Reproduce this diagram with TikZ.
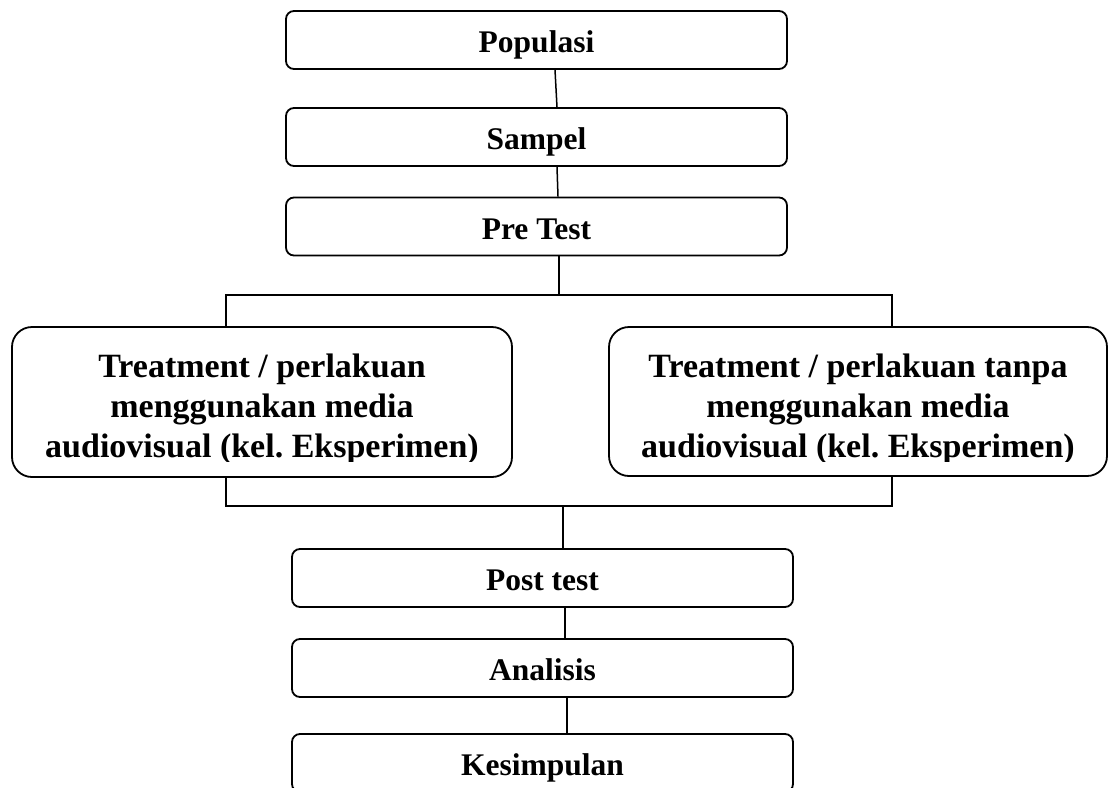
\documentclass[tikz,border=0pt]{standalone}
\usepackage{fontspec}
\setmainfont{Liberation Serif}
\usetikzlibrary{calc}
\frenchspacing
\begin{document}
\begin{tikzpicture}[x=1pt,y=-1pt,
  smallbox/.style={draw=black,line width=1.8pt,rounded corners=8pt,inner sep=0pt,
    minimum width=501pt,minimum height=58pt,text height=25pt,text depth=0pt,
    font=\fontsize{31.5}{36}\selectfont\bfseries},
  bigbox/.style={draw=black,line width=1.8pt,rounded corners=20pt,inner sep=0pt,
    minimum height=150pt},
  bigtext/.style={align=center,inner sep=0pt,font=\fontsize{34}{40}\selectfont\bfseries},
  conn/.style={draw=black,line width=1.5pt}]
\clip (0,0) rectangle (1108,787);
\fill[white] (0,0) rectangle (1108,787);
% boxes
\node[smallbox] (pop)  at (536.5,40)    {Populasi};
\node[smallbox] (samp) at (536.5,137)   {Sampel};
\node[smallbox] (pre)  at (536.5,226.5) {Pre Test};
\node[bigbox,minimum width=500pt] (tl) at (262,402) {};
\node[bigbox,minimum width=498pt,minimum height=149pt] (tr) at (858,401.5) {};
\begin{scope}
\clip (0,330) rectangle (1108,461);
\node[bigtext] (tlt) at ($(tl.center)+(0,7)$) {Treatment / perlakuan\\menggunakan media\\audiovisual (kel. Eksperimen)};
\node[bigtext] (trt) at ($(tr.center)+(0,7.5)$) {Treatment / perlakuan tanpa\\menggunakan media\\audiovisual (kel. Eksperimen)};
\end{scope}
\node[smallbox] (post) at (542.5,578) {Post test};
\node[smallbox] (ana)  at (542.5,668) {Analisis};
\node[smallbox] (kes)  at (542.5,763) {Kesimpulan};
% junction coordinates
\coordinate (c1a) at (555,0);
\coordinate (c1b) at (557,0);
\coordinate (c2a) at (557,0);
\coordinate (c2b) at (558,0);
\coordinate (tj) at (559,295);
\coordinate (lt) at (226,295);
\coordinate (rt) at (892,295);
\coordinate (lb) at (226,506);
\coordinate (rb) at (892,506);
\coordinate (bj) at (563,506);
\coordinate (c3a) at (565,0);
\coordinate (c4a) at (567,0);
% connectors
\draw[conn] (pop.south -| c1a) -- (samp.north -| c1b);
\draw[conn] (samp.south -| c2a) -- (pre.north -| c2b);
\draw[conn] (pre.south -| tj) -- (tj);
\draw[conn] (tl.north -| lt) -- (lt) -- (rt) -- (tr.north -| rt);
\draw[conn] (tl.south -| lb) -- (lb) -- (rb) -- (tr.south -| rb);
\draw[conn] (bj) -- (post.north -| bj);
\draw[conn] (post.south -| c3a) -- (ana.north -| c3a);
\draw[conn] (ana.south -| c4a) -- (kes.north -| c4a);
\end{tikzpicture}
\end{document}
